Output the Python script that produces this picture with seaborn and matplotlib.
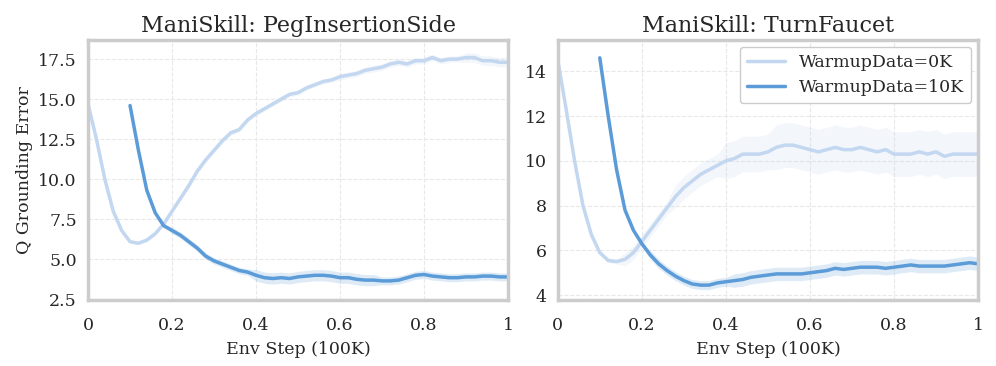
import numpy as np
import pandas as pd
import matplotlib
matplotlib.use("Agg")
import matplotlib.pyplot as plt
import seaborn as sns

# x grids (Env Step, 100K)
x_0k = np.round(np.arange(0, 1.0001, 0.02), 2)
x_10k = np.round(np.arange(0.10, 1.0001, 0.02), 2)

# PegInsertionSide
peg_0k = [14.7, 12.5, 10.0, 8.0, 6.8, 6.1, 6.0, 6.2, 6.6, 7.2,
          8.0, 8.8, 9.6, 10.5, 11.2, 11.8, 12.4, 12.9, 13.1, 13.7,
          14.1, 14.4, 14.7, 15.0, 15.3, 15.4, 15.7, 15.9, 16.1, 16.2,
          16.4, 16.5, 16.6, 16.8, 16.9, 17.0, 17.2, 17.3, 17.2, 17.4,
          17.4, 17.6, 17.4, 17.5, 17.5, 17.6, 17.6, 17.4, 17.4, 17.3, 17.3]
peg_0k_band = [0.1] * 10 + [0.15] * 20 + [0.2] * 15 + [0.3] * 6
peg_10k = [14.6, 11.8, 9.3, 7.9, 7.1, 6.8, 6.5, 6.1, 5.7, 5.2,
           4.9, 4.7, 4.5, 4.3, 4.2, 4.0, 3.85, 3.8, 3.85, 3.8,
           3.9, 3.95, 4.0, 4.0, 3.95, 3.85, 3.85, 3.75, 3.7, 3.7,
           3.65, 3.65, 3.7, 3.85, 4.0, 4.05, 3.95, 3.9, 3.85, 3.85,
           3.9, 3.9, 3.95, 3.95, 3.9, 3.9]
peg_10k_band = [0.1] * 5 + [0.2] * 10 + [0.35] * 15 + [0.25] * 16

# TurnFaucet
tf_0k = [14.5, 12.3, 10.0, 8.0, 6.7, 5.9, 5.55, 5.5, 5.6, 5.9,
         6.4, 6.9, 7.4, 7.9, 8.4, 8.8, 9.1, 9.4, 9.6, 9.8,
         10.0, 10.1, 10.3, 10.3, 10.3, 10.4, 10.6, 10.7, 10.7, 10.6,
         10.5, 10.4, 10.5, 10.6, 10.5, 10.5, 10.6, 10.5, 10.4, 10.5,
         10.3, 10.3, 10.3, 10.4, 10.3, 10.4, 10.2, 10.3, 10.3, 10.3, 10.3]
tf_0k_band = [0.1] * 8 + [0.3] * 6 + [0.5] * 6 + [0.8] * 6 + [1.0] * 25
tf_10k = [14.6, 12.0, 9.6, 7.8, 6.9, 6.3, 5.8, 5.4, 5.1, 4.85,
          4.65, 4.5, 4.45, 4.45, 4.55, 4.6, 4.65, 4.7, 4.8, 4.85,
          4.9, 4.95, 4.95, 4.95, 4.95, 5.0, 5.05, 5.1, 5.2, 5.15,
          5.2, 5.25, 5.25, 5.25, 5.2, 5.25, 5.3, 5.35, 5.3, 5.3,
          5.3, 5.3, 5.35, 5.4, 5.45, 5.4]
tf_10k_band = [0.1] * 6 + [0.2] * 10 + [0.3] * 30

titles = ["ManiSkill: PegInsertionSide", "ManiSkill: TurnFaucet"]
labels = ["WarmupData=0K", "WarmupData=10K"]
colors = ["#c3d7f0", "#5a9bd8"]

sns.set_theme(style="whitegrid")
plt.rcParams["font.family"] = ["DejaVu Serif"]

fig = plt.figure(figsize=(9.96, 3.66), dpi=100)
ax1 = fig.add_axes([0.0884, 0.180, 0.4216, 0.711])
ax2 = fig.add_axes([0.560, 0.180, 0.422, 0.711])

panels = [
    (ax1, [(x_0k, peg_0k, peg_0k_band), (x_10k, peg_10k, peg_10k_band)]),
    (ax2, [(x_0k, tf_0k, tf_0k_band), (x_10k, tf_10k, tf_10k_band)]),
]

for i, (ax, series) in enumerate(panels):
    for (x, y, band), lab, col in zip(series, labels, colors):
        df = pd.DataFrame({"x": x, "y": y})
        y = np.array(y)
        band = np.array(band)
        ax.fill_between(x, y - band, y + band, color=col, alpha=0.2, lw=0)
        sns.lineplot(data=df, x="x", y="y", ax=ax, color=col, lw=2.5, label=lab)
    ax.set_title(titles[i], fontsize=16)
    ax.set_xlim(0, 1)
    ax.set_xticks([0, 0.2, 0.4, 0.6, 0.8, 1])
    ax.set_xticklabels(["0", "0.2", "0.4", "0.6", "0.8", "1"])
    ax.set_xlabel("Env Step (100K)", fontsize=12.5, labelpad=5)
    ax.tick_params(labelsize=12.5, pad=2)
    ax.tick_params(axis="x", pad=6)
    ax.grid(True, ls="--", color="#e8e8e8", lw=0.8)
    for sp in ax.spines.values():
        sp.set_color("#cccccc")
        sp.set_linewidth(2.5)

ax1.set_ylim(2.45, 18.7)
ax1.set_yticks([2.5, 5.0, 7.5, 10.0, 12.5, 15.0, 17.5])
ax1.set_ylabel("Q Grounding Error", fontsize=12.5)
ax1.get_legend().remove()

ax2.set_ylim(3.78, 15.4)
ax2.set_yticks([4, 6, 8, 10, 12, 14])
ax2.set_ylabel("")
ax2.legend(loc="upper right", fontsize=12.5, frameon=True, edgecolor="#cccccc",
           framealpha=1.0, handlelength=2.2, borderaxespad=0.4)

fig.savefig("out.png", dpi=100)
